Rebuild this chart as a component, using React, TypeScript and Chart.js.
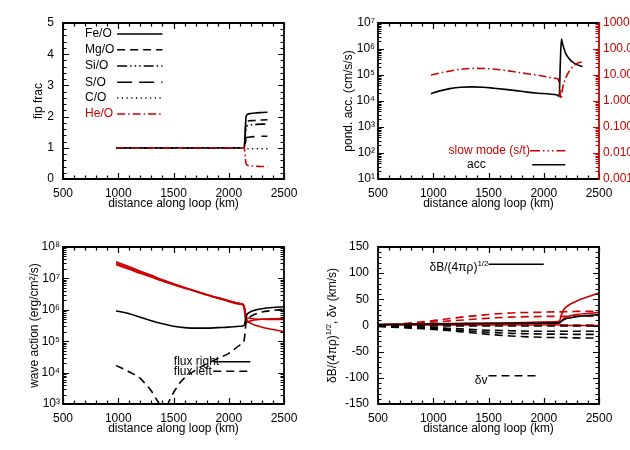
import React, { useEffect, useRef } from 'react';
import { Chart, registerables } from 'chart.js';
Chart.register(...registerables);

const FONT = '"Liberation Sans", Arial, sans-serif';
const RED = 'rgb(204,0,0)';
const BLACK = '#000';

// ---------- shared x axis ----------
const xTickValues = [500, 1000, 1500, 2000, 2500];
const xTitle = 'distance along loop (km)';

// ---------- panel 1: fip frac ----------
const fipX = [980, 1200, 1500, 1800, 2100, 2140, 2150, 2155, 2160, 2170, 2200, 2250, 2300, 2350];
const feO = [1, 1, 1, 1, 1, 1, 1.6, 1.95, 2.03, 2.07, 2.1, 2.12, 2.13, 2.14];
const mgO = [1, 1, 1, 1, 1, 1, 1.5, 1.78, 1.84, 1.86, 1.87, 1.88, 1.89, 1.9];
const siO = [1, 1, 1, 1, 1, 1, 1.4, 1.64, 1.69, 1.71, 1.73, 1.75, 1.76, 1.76];
const sO = [1, 1, 1, 1, 1, 1, 1.15, 1.3, 1.33, 1.34, 1.35, 1.36, 1.37, 1.37];
const cO = [1, 1, 1, 1, 1, 1, 0.98, 0.97, 0.97, 0.97, 0.97, 0.97, 0.97, 0.97];
const heO = [1, 1, 1, 1, 1, 1, 0.7, 0.52, 0.47, 0.44, 0.42, 0.41, 0.4, 0.4];
const fipTicks = [0, 1, 2, 3, 4, 5];
const fipLabels = ['Fe/O', 'Mg/O', 'Si/O', 'S/O', 'C/O', 'He/O'];

// ---------- panel 2: ponderomotive acceleration ----------
const accX = [980, 1050, 1150, 1250, 1350, 1450, 1550, 1650, 1750, 1850, 1950, 2050, 2120, 2140, 2150, 2160, 2170, 2180, 2200, 2225, 2250, 2300, 2350];
const accY = [1.9e4, 2.4e4, 3.0e4, 3.4e4, 3.5e4, 3.4e4, 3.1e4, 2.8e4, 2.5e4, 2.2e4, 2.0e4, 1.85e4, 1.7e4, 1.5e4, 3e5, 2.4e6, 1.6e6, 1.15e6, 6.5e5, 4.5e5, 3.4e5, 2.5e5, 2.1e5];
const slowX = [980, 1100, 1200, 1300, 1400, 1500, 1600, 1700, 1800, 1900, 2000, 2100, 2130, 2145, 2155, 2170, 2200, 2250, 2300, 2350];
const slowY = [10, 13, 15.5, 17.5, 18, 17.5, 16, 14, 12, 10.5, 9, 7.5, 7, 3, 1.2, 3, 8, 18, 28, 32];
const accExp = [1, 2, 3, 4, 5, 6, 7];
const slowExp = [-3, -2, -1, 0, 1, 2, 3];
const slowTickLabels = ['0.001', '0.010', '0.100', '1.000', '10.00', '100.0', '1000.'];

// ---------- panel 3: wave action ----------
const redX = [980, 1100, 1200, 1300, 1400, 1500, 1600, 1700, 1800, 1900, 2000, 2100, 2130, 2145, 2155, 2170, 2200, 2300, 2400, 2500];
const redA = [3.4e7, 2.35e7, 1.7e7, 1.25e7, 9.0e6, 6.7e6, 5.1e6, 3.95e6, 3.05e6, 2.45e6, 1.95e6, 1.6e6, 1.5e6, 1.0e6, 6.5e5, 5.6e5, 5.3e5, 5.0e5, 4.9e5, 4.9e5];
const redB = [3.0e7, 2.1e7, 1.55e7, 1.15e7, 8.5e6, 6.5e6, 5.0e6, 3.9e6, 3.0e6, 2.4e6, 1.9e6, 1.55e6, 1.45e6, 1.1e6, 6.0e5, 4.5e5, 3.7e5, 2.8e5, 2.35e5, 2.0e5];
const redC = [2.7e7, 1.95e7, 1.45e7, 1.1e7, 8.2e6, 6.3e6, 4.9e6, 3.85e6, 2.95e6, 2.35e6, 1.85e6, 1.5e6, 1.4e6, 8.0e5, 4.0e5, 4.0e5, 4.5e5, 5.0e5, 5.2e5, 5.3e5];
const rightX = [980, 1100, 1200, 1300, 1400, 1500, 1600, 1700, 1800, 1900, 2000, 2100, 2140, 2150, 2160, 2180, 2200, 2250, 2300, 2400, 2500];
const fluxRight = [9.2e5, 7.5e5, 5.8e5, 4.5e5, 3.6e5, 3.0e5, 2.7e5, 2.6e5, 2.6e5, 2.7e5, 2.8e5, 3.0e5, 3.2e5, 4.5e5, 6.5e5, 8.0e5, 8.8e5, 1.0e6, 1.08e6, 1.18e6, 1.25e6];
const leftX = [980, 1100, 1200, 1250, 1300, 1340, 1370, 1410, 1450, 1480, 1520, 1560, 1600, 1700, 1800, 1900, 2000, 2100, 2140, 2150, 2160, 2180, 2200, 2300, 2400, 2500];
const fluxLeft = [1.7e4, 1.05e4, 6.5e3, 4.2e3, 2.6e3, 1.5e3, 1.0e3, 3e2, 1.0e3, 1.7e3, 3e3, 4.8e3, 6.8e3, 1.2e4, 1.9e4, 2.8e4, 4.1e4, 7.5e4, 1.1e5, 2.5e5, 4.5e5, 5.5e5, 6.2e5, 8.5e5, 9.5e5, 1.05e6];
const waveExp = [3, 4, 5, 6, 7, 8];

// ---------- panel 4: amplitudes ----------
const ampX = [500, 700, 900, 1100, 1300, 1500, 1700, 1900, 2100, 2140, 2160, 2180, 2200, 2250, 2300, 2400, 2500];
const dbRedA = [2, 2.5, 3, 3.5, 4, 4.5, 5, 6, 7, 8, 20, 30, 35, 42, 47, 55, 62];
const dbRedB = [1, 1.5, 2, 2.5, 3, 3.5, 4, 4.5, 5, 5.5, 9, 13, 16, 19, 21, 23, 25];
const dbRedC = [1, 1, 1, 1, 1, 1, 1, 1, 1, 1, 0.5, 0.3, 0.2, 0, 0, 0, 0];
const dbBlack = [2, 2.5, 3, 3.2, 3.5, 3.8, 4, 4.2, 4.5, 5, 8, 11, 13, 15, 17, 19, 21];
const dvRedA = [0, 3, 7, 12, 17, 21, 24, 25, 26, 26, 26, 26, 26.5, 26.5, 27, 27, 27];
const dvRedB = [0, 2, 5, 8, 11, 14, 16, 17, 17.5, 17.5, 17.5, 17.5, 17.5, 17.8, 18, 18, 18];
const dvRedC = [0, 0.5, 1, 1.5, 2, 2, 2, 2, 2, 2, 1.5, 1, 1, 1, 1, 1, 1];
const dvBlackA = [-1, -2, -3, -5, -7, -9, -10, -11, -11, -11, -11, -11, -11, -11, -11, -11, -11];
const dvBlackB = [-1, -3, -5, -7, -10, -13, -15, -16, -16.5, -16.5, -16.5, -16.5, -16.7, -16.8, -17, -17, -17];
const dvBlackC = [-2, -4, -6, -9, -13, -17, -20, -22, -23, -23, -23, -23, -23.2, -23.5, -23.7, -24, -24];
const dvBlackD = [-1, -1, -1, -1, -1, -1, -1, -1, -1, -1, -1, -1, -1, -1, -1, -1, -1];
const ampTicks = [-150, -100, -50, 0, 50, 100, 150];

// ---------- helpers ----------
const SUP: Record<string, string> = { '0': '⁰', '1': '¹', '2': '²', '3': '³', '4': '⁴', '5': '⁵', '6': '⁶', '7': '⁷', '8': '⁸', '9': '⁹', '-': '⁻' };
const pow10Label = (e: number) => '10' + String(e).split('').map((c) => SUP[c]).join('');

const pts = (xs: number[], ys: number[]) => xs.map((x, i) => ({ x, y: ys[i] }));

type Seg = { t: string; sup?: boolean };
type LegendItem = { text: Seg[]; color: string; dash: number[]; x0: number; x1: number; y: number; tx: number; ty?: number; align: 'left' | 'right' };
type TickSpec = { log?: number[]; major?: number[]; minor?: number };
type FrameCfg = { xt: TickSpec; yt: TickSpec; y2t?: TickSpec; rightColor?: string; legend: LegendItem[]; yTitle: Seg[]; yTitleX: number };

function drawRich(ctx: CanvasRenderingContext2D, segs: Seg[], x: number, y: number, align: 'left' | 'right' | 'center', color: string) {
  const big = `12px ${FONT}`;
  const small = `8px ${FONT}`;
  let w = 0;
  segs.forEach((s) => { ctx.font = s.sup ? small : big; w += ctx.measureText(s.t).width; });
  let cx = align === 'left' ? x : align === 'right' ? x - w : x - w / 2;
  ctx.textBaseline = 'middle';
  ctx.textAlign = 'left';
  ctx.fillStyle = color;
  segs.forEach((s) => {
    ctx.font = s.sup ? small : big;
    ctx.fillText(s.t, cx, s.sup ? y - 4 : y);
    cx += ctx.measureText(s.t).width;
  });
}

// list of [value, isMajor] for axis tick marks
function tickList(spec: TickSpec): [number, boolean][] {
  const out: [number, boolean][] = [];
  if (spec.log) {
    const ex = spec.log;
    for (let k = 0; k < ex.length - 1; k++) {
      for (let m = 1; m < 10; m++) out.push([m * Math.pow(10, ex[k]), m === 1]);
    }
    out.push([Math.pow(10, ex[ex.length - 1]), true]);
    return out;
  }
  const maj = spec.major || [];
  const lo = maj[0];
  const hi = maj[maj.length - 1];
  const step = spec.minor || 1;
  const n = Math.round((hi - lo) / step);
  for (let i = 0; i <= n; i++) {
    const v = lo + i * step;
    out.push([v, maj.some((m) => Math.abs(m - v) < 1e-6)]);
  }
  return out;
}

function strokeSegs(ctx: CanvasRenderingContext2D, segs: number[][], color: string, width: number) {
  ctx.save();
  ctx.setLineDash([]);
  ctx.strokeStyle = color;
  ctx.lineWidth = width;
  ctx.lineCap = 'butt';
  ctx.beginPath();
  for (const s of segs) {
    ctx.moveTo(s[0], s[1]);
    ctx.lineTo(s[2], s[3]);
  }
  ctx.stroke();
  ctx.restore();
}

function makeFrame(cfg: FrameCfg) {
  return {
    id: 'frame',
    afterDraw(chart: any) {
      const ctx: CanvasRenderingContext2D = chart.ctx;
      const a = chart.chartArea;
      const xs = chart.scales.x;
      const ys = chart.scales.y;
      const y2 = chart.scales.y2;
      const L = a.left, R = a.right, T = a.top, B = a.bottom;
      // legend
      for (const it of cfg.legend) {
        const py = ys.getPixelForValue(it.y);
        ctx.save();
        ctx.strokeStyle = it.color;
        ctx.lineWidth = 1.5;
        ctx.setLineDash(it.dash);
        ctx.beginPath();
        ctx.moveTo(xs.getPixelForValue(it.x0), py);
        ctx.lineTo(xs.getPixelForValue(it.x1), py);
        ctx.stroke();
        ctx.restore();
        const ty = it.ty === undefined ? py : ys.getPixelForValue(it.ty);
        drawRich(ctx, it.text, xs.getPixelForValue(it.tx), ty, it.align, it.color);
      }
      // tick marks
      const blackTicks: number[][] = [];
      for (const [v, major] of tickList(cfg.xt)) {
        const p = Math.round(xs.getPixelForValue(v)) + 0.5;
        const len = major ? 6 : 3.5;
        blackTicks.push([p, B, p, B - len]);
        blackTicks.push([p, T, p, T + len]);
      }
      for (const [v, major] of tickList(cfg.yt)) {
        const p = Math.round(ys.getPixelForValue(v)) + 0.5;
        const len = major ? 6 : 3.5;
        blackTicks.push([L, p, L + len, p]);
        if (!cfg.y2t) blackTicks.push([R, p, R - len, p]);
      }
      strokeSegs(ctx, blackTicks, BLACK, 1.2);
      if (cfg.y2t && y2) {
        const redTicks: number[][] = [];
        for (const [v, major] of tickList(cfg.y2t)) {
          const p = Math.round(y2.getPixelForValue(v)) + 0.5;
          const len = major ? 6 : 3.5;
          redTicks.push([R, p, R - len, p]);
        }
        strokeSegs(ctx, redTicks, cfg.rightColor || BLACK, 1.2);
      }
      // frame
      strokeSegs(ctx, [[R, T, L, T], [L, T - 0.9, L, B + 0.9], [L, B, R, B]], BLACK, 1.8);
      strokeSegs(ctx, [[R, T - 0.9, R, B + 0.9]], cfg.rightColor || BLACK, 1.8);
      // titles
      drawRich(ctx, [{ t: xTitle }], (L + R) / 2, B + 25, 'center', BLACK);
      ctx.save();
      ctx.translate(cfg.yTitleX, (T + B) / 2);
      ctx.rotate(-Math.PI / 2);
      drawRich(ctx, cfg.yTitle, 0, 0, 'center', BLACK);
      ctx.restore();
    },
  };
}

const tickFont = { family: FONT, size: 12 };

const xAxis = () => ({
  type: 'linear', min: 500, max: 2500,
  afterBuildTicks: (s: any) => { s.ticks = xTickValues.map((v) => ({ value: v })); },
  afterFit: (s: any) => { s.height = 46; },
  ticks: { color: BLACK, font: tickFont, padding: 7, maxRotation: 0, autoSkip: false, callback: (v: any) => String(v) },
  grid: { display: false, drawTicks: false },
  border: { display: false },
});

const linY = (min: number, max: number, vals: number[]) => ({
  type: 'linear', position: 'left', min, max,
  afterBuildTicks: (s: any) => { s.ticks = vals.map((v) => ({ value: v })); },
  afterFit: (s: any) => { s.width = 63; },
  ticks: { color: BLACK, font: tickFont, padding: 9, autoSkip: false, callback: (v: any) => String(v) },
  grid: { display: false, drawTicks: false },
  border: { display: false },
});

const logY = (exps: number[]) => ({
  type: 'logarithmic', position: 'left', min: Math.pow(10, exps[0]), max: Math.pow(10, exps[exps.length - 1]),
  afterBuildTicks: (s: any) => { s.ticks = exps.map((e) => ({ value: Math.pow(10, e) })); },
  afterFit: (s: any) => { s.width = 63; },
  ticks: { color: BLACK, font: tickFont, padding: 3, autoSkip: false, callback: (v: any) => pow10Label(Math.round(Math.log10(v))) },
  grid: { display: false, drawTicks: false },
  border: { display: false },
});

const line = (data: any[], color: string, dash: number[] = [], yAxisID = 'y') => ({
  data, borderColor: color, borderDash: dash, borderWidth: 1.6, pointRadius: 0, fill: false,
  cubicInterpolationMode: 'monotone', yAxisID,
});

const DASH = [8, 5];
const LONGDASH = [15, 7];
const DOT = [1.2, 3.5];
const DASHDOT = [8, 3, 1.5, 3];
const DASH3DOT = [10, 3, 1.5, 3, 1.5, 3, 1.5, 3];

const baseOptions = (scales: any, padTop: number, padRight: number) => ({
  responsive: false,
  animation: false,
  events: [],
  layout: { padding: { top: padTop, right: padRight, left: 0, bottom: 0 } },
  plugins: { legend: { display: false }, tooltip: { enabled: false }, title: { display: false } },
  scales,
});

const xTickSpec: TickSpec = { major: xTickValues, minor: 100 };

// ---------- configs ----------
function config1() {
  const styles = [
    { c: BLACK, d: [] as number[] },
    { c: BLACK, d: DASH },
    { c: BLACK, d: DASH3DOT },
    { c: BLACK, d: LONGDASH },
    { c: BLACK, d: DOT },
    { c: RED, d: DASHDOT },
  ];
  const series = [feO, mgO, siO, sO, cO, heO];
  const legendY = [4.65, 4.14, 3.62, 3.1, 2.6, 2.08];
  return {
    type: 'line',
    data: { datasets: series.map((s, i) => line(pts(fipX, s), styles[i].c, styles[i].d)).reverse() },
    options: baseOptions({ x: xAxis(), y: linY(0, 5, fipTicks) }, 23, 31),
    plugins: [makeFrame({
      xt: xTickSpec, yt: { major: fipTicks, minor: 0.2 },
      legend: fipLabels.map((t, i) => ({ text: [{ t }], color: styles[i].c, dash: styles[i].d, x0: 990, x1: 1400, y: legendY[i], tx: 700, align: 'left' as const })),
      yTitle: [{ t: 'fip frac' }], yTitleX: 39,
    })],
  };
}

function config2() {
  const y2 = {
    type: 'logarithmic', position: 'right', min: 0.001, max: 1000,
    afterBuildTicks: (s: any) => { s.ticks = slowExp.map((e) => ({ value: Math.pow(10, e) })); },
    afterFit: (s: any) => { s.width = 31; },
    ticks: { color: RED, font: tickFont, padding: 4, autoSkip: false, callback: (_v: any, i: number) => slowTickLabels[i] },
    grid: { display: false, drawTicks: false },
    border: { display: false },
  };
  return {
    type: 'line',
    data: {
      datasets: [
        line(pts(slowX, slowY), RED, DASHDOT, 'y2'),
        line(pts(accX, accY), BLACK, []),
      ],
    },
    options: baseOptions({ x: xAxis(), y: logY(accExp), y2 }, 23, 0),
    plugins: [makeFrame({
      xt: xTickSpec, yt: { log: accExp }, y2t: { log: slowExp }, rightColor: RED,
      legend: [
        { text: [{ t: 'slow mode (s/t)' }], color: RED, dash: DASH3DOT, x0: 1875, x1: 2195, y: 123, tx: 1875, align: 'right' },
        { text: [{ t: 'acc' }], color: BLACK, dash: [], x0: 1895, x1: 2195, y: 35, tx: 1305, align: 'left' },
      ],
      yTitle: [{ t: 'pond. acc. (cm/s/s)' }], yTitleX: 34,
    })],
  };
}

function config3() {
  return {
    type: 'line',
    data: {
      datasets: [
        line(pts(leftX, fluxLeft), BLACK, DASH),
        line(pts(rightX, fluxRight), BLACK, []),
        line(pts(redX, redC), RED, []),
        line(pts(redX, redB), RED, []),
        line(pts(redX, redA), RED, []),
      ],
    },
    options: baseOptions({ x: xAxis(), y: logY(waveExp) }, 22, 31),
    plugins: [makeFrame({
      xt: xTickSpec, yt: { log: waveExp },
      legend: [
        { text: [{ t: 'flux right' }], color: BLACK, dash: [], x0: 1860, x1: 2195, y: 2.2e4, tx: 1503, align: 'left' },
        { text: [{ t: 'flux left' }], color: BLACK, dash: DASH, x0: 1860, x1: 2195, y: 1.1e4, tx: 1503, align: 'left' },
      ],
      yTitle: [{ t: 'wave action (erg/cm²/s)' }], yTitleX: 35,
    })],
  };
}

function config4() {
  return {
    type: 'line',
    data: {
      datasets: [
        line(pts(ampX, dvBlackA), BLACK, DASH),
        line(pts(ampX, dvBlackB), BLACK, DASH),
        line(pts(ampX, dvBlackC), BLACK, DASH),
        line(pts(ampX, dvBlackD), BLACK, DASH),
        line(pts(ampX, dbBlack), BLACK, []),
        line(pts(ampX, dvRedA), RED, DASH),
        line(pts(ampX, dvRedB), RED, DASH),
        line(pts(ampX, dvRedC), RED, DASH),
        line(pts(ampX, dbRedC), RED, []),
        line(pts(ampX, dbRedB), RED, []),
        line(pts(ampX, dbRedA), RED, []),
      ],
    },
    options: baseOptions({ x: xAxis(), y: linY(-150, 150, ampTicks) }, 22, 31),
    plugins: [makeFrame({
      xt: xTickSpec, yt: { major: ampTicks, minor: 10 },
      legend: [
        { text: [{ t: 'δB/(4πρ)' }, { t: '1/2', sup: true }], color: BLACK, dash: [], x0: 1500, x1: 2000, y: 117, ty: 111, tx: 1500, align: 'right' },
        { text: [{ t: 'δv' }], color: BLACK, dash: DASH, x0: 1500, x1: 1950, y: -96, ty: -106, tx: 1490, align: 'right' },
      ],
      yTitle: [{ t: 'δB/(4πρ)' }, { t: '1/2', sup: true }, { t: ', δv (km/s)' }], yTitleX: 18,
    })],
  };
}

function Panel({ make, left, top }: { make: () => any; left: number; top: number }) {
  const ref = useRef<HTMLCanvasElement>(null);
  useEffect(() => {
    if (!ref.current) return;
    const chart = new Chart(ref.current, make());
    return () => chart.destroy();
  }, [make]);
  return (
    <div style={{ position: 'absolute', left, top, width: 315, height: 225 }}>
      <canvas ref={ref} width={315} height={225} style={{ width: 315, height: 225, display: 'block' }} />
    </div>
  );
}

export default function App() {
  return (
    <div style={{ position: 'absolute', left: 0, top: 0, width: 630, height: 450, background: '#fff', overflow: 'hidden' }}>
      <Panel make={config1} left={0} top={0} />
      <Panel make={config2} left={315} top={0} />
      <Panel make={config3} left={0} top={225} />
      <Panel make={config4} left={315} top={225} />
    </div>
  );
}
